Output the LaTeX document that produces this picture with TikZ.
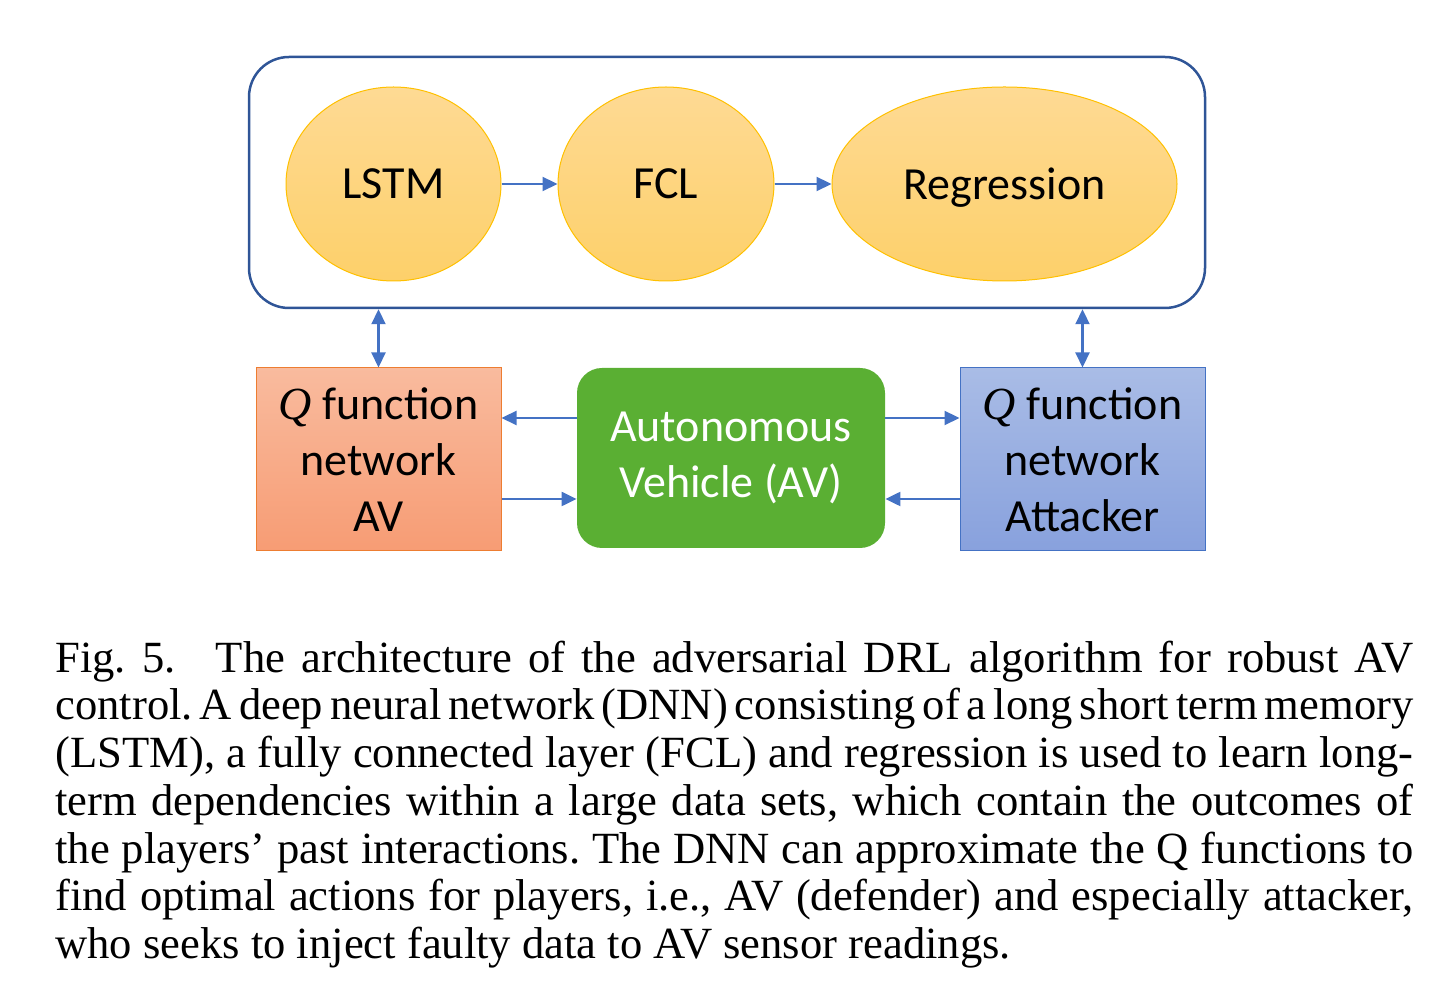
\documentclass[tikz,border=0pt]{standalone}
\usepackage{fontspec}
\setmainfont{Carlito}
\newfontfamily\capfont{Liberation Serif}
\usetikzlibrary{shapes.geometric,arrows.meta}
\definecolor{dnnblue}{HTML}{2F5597}
\definecolor{linkblue}{HTML}{4472C4}
\definecolor{goldtop}{HTML}{FEDA94}
\definecolor{goldbot}{HTML}{FDD06A}
\definecolor{goldline}{HTML}{FFC000}
\definecolor{salmontop}{HTML}{F9BB9E}
\definecolor{salmonbot}{HTML}{F79C74}
\definecolor{salmonline}{HTML}{ED7D31}
\definecolor{avgreen}{HTML}{5AAF33}
\definecolor{attop}{HTML}{A9BCE6}
\definecolor{atbot}{HTML}{88A1DD}
\newcommand{\qsym}{{\capfont\itshape Q}}
\newcommand{\capsetup}{\capfont\fontsize{22.3}{23.85}\selectfont\frenchspacing
  \spaceskip=0.25em plus 0.3em minus 0.15em\relax\hyphenpenalty=10000\relax}
\tikzset{
  layer/.style={ellipse, draw=goldline, line width=0.5pt, top color=goldtop, bottom color=goldbot,
    minimum height=97pt, inner sep=0pt, text depth=0pt, font=\fontsize{23}{28}\selectfont},
  qnet/.style={rectangle, line width=0.5pt, minimum width=122.5pt, minimum height=91.5pt,
    inner sep=0pt, align=center, font=\fontsize{23}{28}\selectfont},
  link/.style={linkblue, line width=1.1pt, -{Triangle[length=7.5pt,width=7pt]}},
  dlink/.style={link, {Triangle[length=7.5pt,width=7pt]}-{Triangle[length=7.5pt,width=7pt]}}
}
\begin{document}
\begin{tikzpicture}[x=0.5pt,y=-0.5pt]
  \useasboundingbox (0,0) rectangle (1452,1004);
  \node[draw=dnnblue, line width=1.25pt, rounded corners=20pt, minimum width=478pt, minimum height=125.5pt] (dnn) at (727,182.5) {};
  \node[layer, minimum width=107.5pt] (lstm) at (393.5,184) {LSTM};
  \node[layer, minimum width=108pt] (fcl) at (666,184) {FCL};
  \node[layer, minimum width=172.5pt] (reg) at (1004.5,184) {Regression};
  \draw[link] (lstm) -- (fcl);
  \draw[link] (fcl) -- (reg);
  \node[qnet, draw=salmonline, top color=salmontop, bottom color=salmonbot] (qav) at (378.5,459.5) {\qsym\ function\\network\\AV};
  \node[rectangle, fill=avgreen, rounded corners=12.5pt, minimum width=154pt, minimum height=90pt, align=center,
    text=white, font=\fontsize{23}{28}\selectfont] (av) at (731,458) {Autonomous\\Vehicle (AV)};
  \node[qnet, draw=linkblue, top color=attop, bottom color=atbot] (qatt) at (1082.5,459.5) {\qsym\ function\\network\\Attacker};
  \draw[dlink] (qav.north) -- (qav.north |- dnn.south);
  \draw[dlink] (qatt.north) -- (qatt.north |- dnn.south);
  \draw[link] ([yshift=20pt]av.west) -- ([yshift=20pt]av.west -| qav.east);
  \draw[link] ([yshift=-20.5pt]av.west -| qav.east) -- ([yshift=-20.5pt]av.west);
  \draw[link] ([yshift=20pt]av.east) -- ([yshift=20pt]av.east -| qatt.west);
  \draw[link] ([yshift=-20.5pt]av.east -| qatt.west) -- ([yshift=-20.5pt]av.east);
  \node[anchor=north west, text width=679pt, inner sep=0pt, align=justify, font=\capsetup] (cap) at (55,640.5)
    {Fig.~5.\hspace{0.9em}The architecture of the adversarial DRL algorithm for robust AV\linebreak
    control. A deep neural network (DNN) consisting of a long short term memory\linebreak
    (LSTM), a fully connected layer (FCL) and regression is used to learn long-\linebreak
    term dependencies within a large data sets, which contain the outcomes of\linebreak
    the players’ past interactions. The DNN can approximate the Q functions to\linebreak
    find optimal actions for players, i.e., AV (defender) and especially attacker,\linebreak
    who seeks to inject faulty data to AV sensor readings.};
\end{tikzpicture}
\end{document}
